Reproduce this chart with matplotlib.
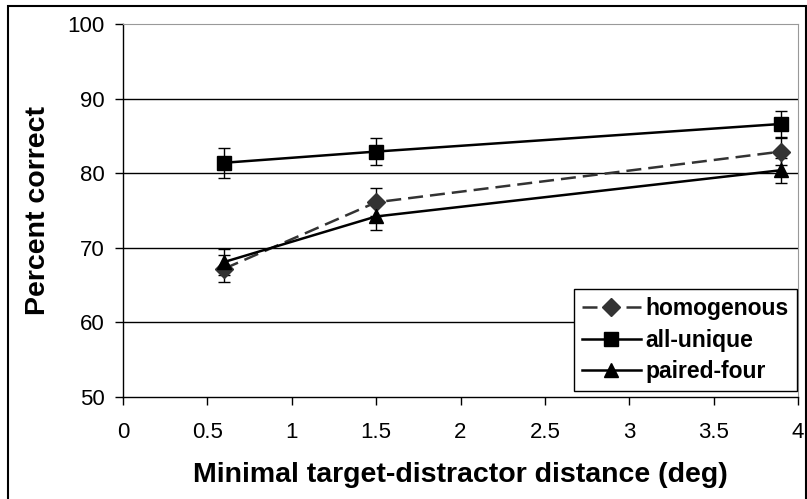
import matplotlib
matplotlib.use("Agg")
import matplotlib.pyplot as plt
from matplotlib.patches import Rectangle
from matplotlib.lines import Line2D

plt.rcParams['font.family'] = ['Liberation Sans', 'DejaVu Sans']

# distancia minima alvo-distrator (graus)
distancias = [0.6, 1.5, 3.9]

homogenous = [67.2, 76.1, 82.9]
homogenous_err = [1.8, 1.9, 1.8]
all_unique = [81.4, 82.9, 86.6]
all_unique_err = [2.0, 1.8, 1.8]
paired_four = [68.1, 74.2, 80.4]
paired_four_err = [1.7, 1.8, 1.7]

x_ticks = [0, 0.5, 1, 1.5, 2, 2.5, 3, 3.5, 4]
y_ticks = [50, 60, 70, 80, 90, 100]

fig = plt.figure(figsize=(8.07, 4.99), dpi=100)
ax = fig.add_axes([123 / 807, 1 - 397 / 499, 675 / 807, 373 / 499])

# moldura externa do grafico (estilo Excel)
fig.patches.append(Rectangle((8 / 807, -0.02), 798 / 807, 1 - 6 / 499 + 0.02,
                             transform=fig.transFigure, fill=False,
                             edgecolor='black', linewidth=1.5))

for v in y_ticks[1:-1]:
    ax.axhline(v, color='black', linewidth=1.0, zorder=1)

lw = 1.8
series = [
    ('homogenous', homogenous, homogenous_err, '#333333', (0, (6, 2.8)), 'D', 9),
    ('all-unique', all_unique, all_unique_err, 'black', '-', 's', 9.5),
    ('paired-four', paired_four, paired_four_err, 'black', '-', '^', 10.5),
]

handles = []
for nome, valores, erros, cor, estilo, marcador, tam in series:
    ax.errorbar(distancias, valores, yerr=erros, color=cor, linestyle=estilo,
                linewidth=lw, marker=marcador, markersize=tam, ecolor='black',
                elinewidth=1.0, capsize=4, capthick=1.0, zorder=3)
    handles.append(Line2D([], [], color=cor, linestyle=estilo, linewidth=lw,
                          marker=marcador, markersize=tam, label=nome))

ax.set_xlim(0, 4)
ax.set_ylim(50, 100)
ax.set_xticks(x_ticks)
ax.set_xticklabels(['0', '0.5', '1', '1.5', '2', '2.5', '3', '3.5', '4'])
ax.set_yticks(y_ticks)
ax.tick_params(axis='both', direction='out', length=6, width=1.0,
               labelsize=16, colors='black')
ax.tick_params(axis='y', pad=7)
ax.tick_params(axis='x', pad=12)

ax.spines['left'].set_linewidth(1.0)
ax.spines['bottom'].set_linewidth(1.0)
ax.spines['top'].set_color('#999999')
ax.spines['right'].set_color('#999999')

ax.set_xlabel('Minimal target-distractor distance (deg)', fontsize=20.5,
              fontweight='bold', labelpad=14)
ax.set_ylabel('Percent correct', fontsize=20.5, fontweight='bold', labelpad=12)

leg = ax.legend(handles=handles, loc='lower right', bbox_to_anchor=(0.9985, 0.015),
                frameon=True, fancybox=False, edgecolor='black', framealpha=1,
                prop={'weight': 'bold', 'size': 16.5}, handlelength=2.6,
                handletextpad=0.2, labelspacing=0.38, borderpad=0.35,
                borderaxespad=0.0)
leg.get_frame().set_linewidth(1.0)

fig.savefig('out.png', dpi=100)
